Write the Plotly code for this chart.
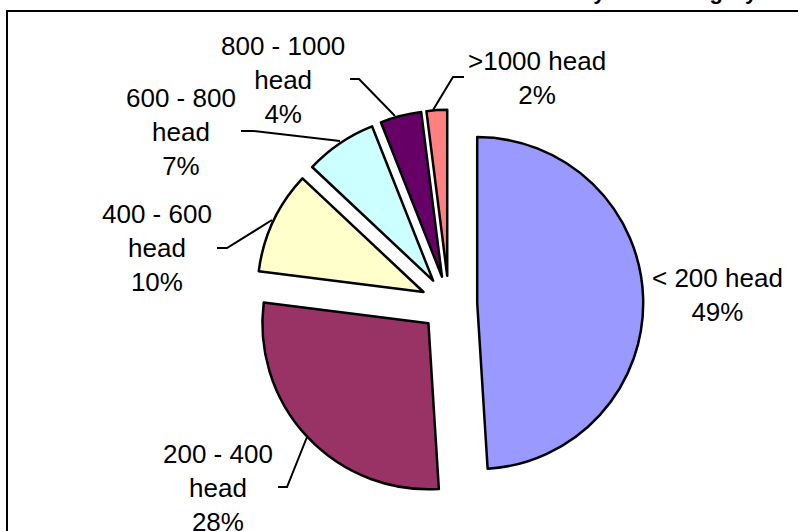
import plotly.graph_objects as go

# ---- data ----
categories = ["< 200 head", "200 - 400 head", "400 - 600 head",
              "600 - 800 head", "800 - 1000 head", ">1000 head"]
shares = [49, 28, 10, 7, 4, 2]
label_texts = ["< 200 head<br>49%", "200 - 400<br>head<br>28%", "400 - 600<br>head<br>10%",
               "600 - 800<br>head<br>7%", "800 - 1000<br>head<br>4%", ">1000 head<br>2%"]
colors = ["#9999FF", "#993366", "#FFFFCC", "#CCFFFF", "#660066", "#FF8080"]
title_text = "Distribution of Herds by Size Category"

W, H = 798, 531

def px(x):
    return x / W

def py(y):
    return 1 - y / H

# pie geometry (pixels): centre (449,304), radius 166, pull 0.17
pull = 0.17
r = 166
cx, cy = 449, 304
half = r * (1 + pull)
dom_x = [px(cx - half), px(cx + half)]
dom_y = [py(cy + half), py(cy - half)]

fig = go.Figure(go.Pie(
    labels=categories,
    values=shares,
    sort=False,
    direction="clockwise",
    rotation=0,
    pull=[pull] * len(shares),
    marker=dict(colors=colors, line=dict(color="black", width=2.5)),
    textinfo="none",
    hoverinfo="label+percent",
    domain=dict(x=dom_x, y=dom_y),
    showlegend=False,
))

# label positions (pixel centres) and leader lines
label_pos = [(717, 295), (218, 488), (157, 248), (181, 132), (283, 80), (537, 78)]
leaders = [
    None,
    [(278, 487), (287, 487), (307, 437)],
    [(217, 248), (227, 248), (272, 220)],
    [(241, 131), (253, 131), (340, 141)],
    [(350, 79), (359, 79), (395, 116)],
    [(464, 77), (453, 77), (433, 110)],
]

annotations = []
for txt, (x, y) in zip(label_texts, label_pos):
    annotations.append(dict(
        text=txt, x=px(x), y=py(y), xref="paper", yref="paper",
        xanchor="center", yanchor="middle", showarrow=False,
        font=dict(family="Liberation Sans, Arial, sans-serif", size=26, color="black"),
        align="center",
    ))

annotations.append(dict(
    text="<b>" + title_text + "</b>", x=px(760), y=1, xref="paper", yref="paper",
    xanchor="right", yanchor="bottom", yshift=-6, showarrow=False,
    font=dict(family="Liberation Sans, Arial, sans-serif", size=22, color="black"),
))

shapes = []
for pts in leaders:
    if pts is None:
        continue
    path = "M " + " L ".join(f"{px(x)},{py(y)}" for x, y in pts)
    shapes.append(dict(type="path", path=path, xref="paper", yref="paper",
                       line=dict(color="black", width=2)))

# chart frame
shapes.append(dict(type="rect", xref="paper", yref="paper",
                   x0=px(7), x1=px(812), y0=py(545), y1=py(11),
                   line=dict(color="black", width=2), fillcolor="rgba(0,0,0,0)"))

fig.update_layout(
    width=W, height=H,
    margin=dict(l=0, r=0, t=0, b=0),
    paper_bgcolor="white",
    plot_bgcolor="white",
    annotations=annotations,
    shapes=shapes,
)

fig.write_html("out.html",
               config={"displayModeBar": False},
               post_script="document.body.style.margin='0px';document.body.style.overflow='hidden';")
